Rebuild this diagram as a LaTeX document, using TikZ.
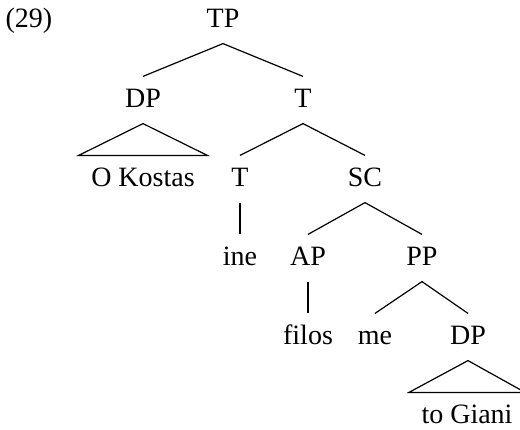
\documentclass[tikz,border=0pt]{standalone}
\usepackage{fontspec}
\setmainfont{Liberation Serif}
\usetikzlibrary{positioning}

\begin{document}
\begin{tikzpicture}[x=0.5pt, y=-0.5pt, line width=0.6pt,
        cat/.style={anchor=base, font=\fontsize{14}{16}\selectfont,
            text height=9.5pt, text depth=2.5pt, inner ysep=5.5pt, inner xsep=6pt}]
        \useasboundingbox (0,0) rectangle (520,429);
        \node[cat, anchor=base west, inner xsep=0pt] (ex) at (5,27) {(29)};
        \node[cat] (tp) at (223,27) {TP};
        \node[cat] (dpa) at (143,107) {DP};
        \node[cat] (tbar) at (303,107) {T};
        \node[cat] (kostas) at (143,186) {O Kostas};
        \node[cat] (thead) at (240,186) {T};
        \node[cat] (sc) at (365,186) {SC};
        \node[cat] (ine) at (240,265) {ine};
        \node[cat] (ap) at (308,265) {AP};
        \node[cat] (pp) at (422,265) {PP};
        \node[cat] (filos) at (308,344) {filos};
        \node[cat] (me) at (375,344) {me};
        \node[cat] (dpb) at (468,344) {DP};
        \node[cat] (giani) at (467,423) {to Giani};
        \draw (tp.south) -- (dpa.north);
        \draw (tp.south) -- (tbar.north);
        \draw (dpa.south) -- (kostas.north west) -- (kostas.north east) -- cycle;
        \draw (tbar.south) -- (thead.north);
        \draw (tbar.south) -- (sc.north);
        \draw (thead.south) -- (ine.north);
        \draw (sc.south) -- (ap.north);
        \draw (sc.south) -- (pp.north);
        \draw (ap.south) -- (filos.north);
        \draw (pp.south) -- (me.north);
        \draw (pp.south) -- (dpb.north);
        \draw (dpb.south) -- (giani.north west) -- (giani.north east) -- cycle;
    \end{tikzpicture}
\end{document}
